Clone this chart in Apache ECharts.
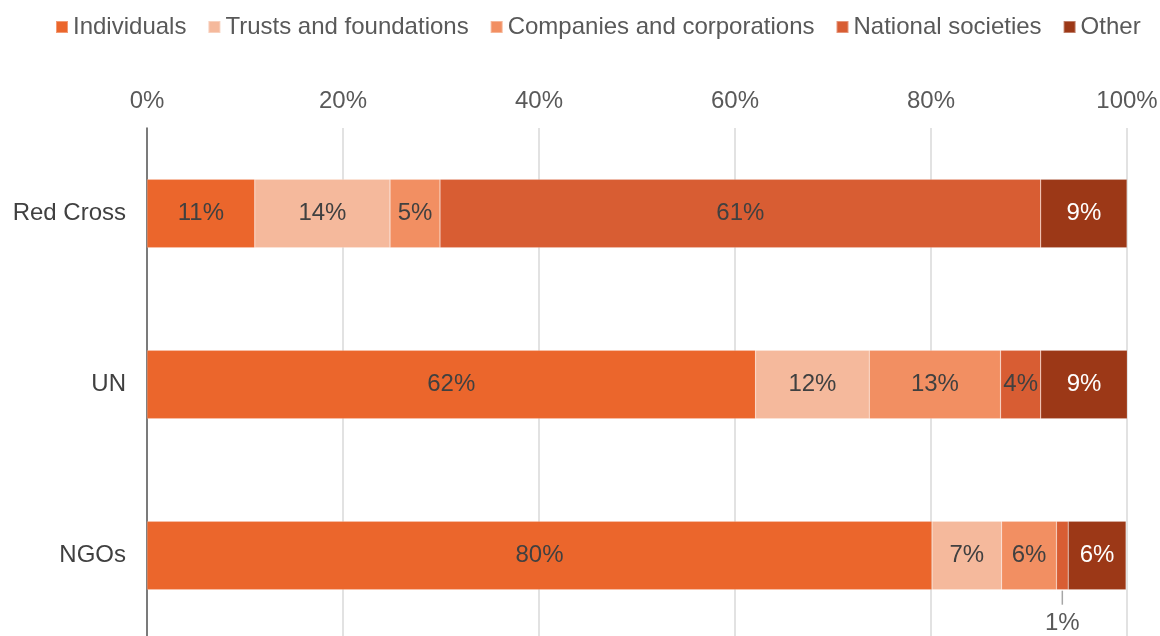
<!DOCTYPE html>
<html>
<head>
<meta charset="utf-8">
<script src="https://cdn.jsdelivr.net/npm/echarts@6/dist/echarts.min.js"></script>
<style>
  html, body { margin: 0; padding: 0; background: #fff; }
  #chart { width: 1160px; height: 636px; }
</style>
</head>
<body>
<div id="chart"></div>
<script>
// shares of funding by source, %
const CATEGORIES = ["Red Cross", "UN", "NGOs"];
const INDIVIDUALS = [11.0, 62.1, 80.1];
const TRUSTS = [13.8, 11.6, 7.1];
const COMPANIES = [5.1, 13.4, 5.6];
const NATIONAL = [61.3, 4.1, 1.2];
const OTHER = [8.8, 8.9, 5.9];
const X_TICKS = [0, 20, 40, 60, 80, 100];

const FONT = "Liberation Sans, Arial, sans-serif";
const FS = 24;
const COL = {
  ind: "#eb662c", tru: "#f5b99c", com: "#f28f62", nat: "#d85d33", oth: "#9c3817",
};

function seg(name, data, color, labelColor) {
  return {
    name, type: "bar", stack: "total", data, barWidth: "40%",
    itemStyle: { color, borderColor: "rgba(255,255,255,0.35)", borderWidth: 0.5 },
    label: {
      show: true, position: "inside", color: labelColor,
      fontFamily: FONT, fontSize: FS,
      formatter: (p) => Math.round(p.value) + "%",
    },
  };
}

const chart = echarts.init(document.getElementById("chart"));

const natSeries = seg("National societies", NATIONAL.map((v) => {
  if (v >= 2) return v;
  // tiny slice: label sits under the bar with a leader tick
  return {
    value: v,
    label: {
      position: "bottom", distance: 1,
      formatter: (p) => "{l|}\n{t|" + Math.round(p.value) + "%}",
      rich: {
        l: { width: 1.5, height: 14, backgroundColor: "#a6a6a6", align: "center" },
        t: { fontFamily: FONT, fontSize: FS, color: "#595959", padding: [7, 0, 0, 0], align: "center" },
      },
    },
  };
}), COL.nat, "#404040");

chart.setOption({
  animation: false,
  textStyle: { fontFamily: FONT },
  legend: {
    top: 10, left: 50, itemWidth: 12, itemHeight: 12, itemGap: 21,
    icon: "rect",
    textStyle: { fontFamily: FONT, fontSize: FS, color: "#595959" },
    data: ["Individuals", "Trusts and foundations", "Companies and corporations", "National societies", "Other"],
  },
  grid: { left: 147, right: 33, top: 128, height: 513, outerBoundsMode: "none" },
  xAxis: {
    type: "value", position: "top", min: 0, max: 100, interval: 20,
    axisLine: { show: false }, axisTick: { show: false },
    axisLabel: {
      fontFamily: FONT, fontSize: FS, color: "#595959", margin: 15,
      formatter: (v) => (X_TICKS.includes(v) ? v + "%" : ""),
    },
    splitLine: { lineStyle: { color: "#d9d9d9", width: 1.5 } },
  },
  yAxis: {
    type: "category", data: CATEGORIES, inverse: true,
    axisLine: { lineStyle: { color: "#595959", width: 1.5 } }, axisTick: { show: false },
    axisLabel: { fontFamily: FONT, fontSize: FS, color: "#404040", margin: 21 },
  },
  series: [
    seg("Individuals", INDIVIDUALS, COL.ind, "#404040"),
    seg("Trusts and foundations", TRUSTS, COL.tru, "#404040"),
    seg("Companies and corporations", COMPANIES, COL.com, "#404040"),
    natSeries,
    seg("Other", OTHER, COL.oth, "#ffffff"),
  ],
});
</script>
</body>
</html>
